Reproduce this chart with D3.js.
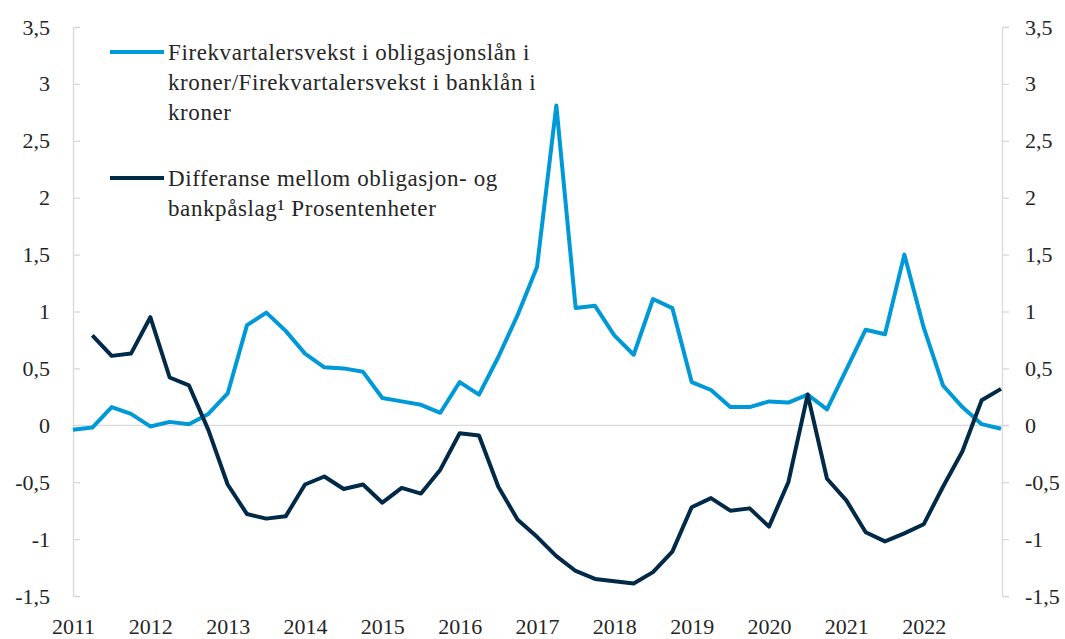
<!DOCTYPE html>
<html>
<head>
<meta charset="utf-8">
<script src="https://cdn.jsdelivr.net/npm/d3@7"></script>
<style>
  body { margin: 0; background: #fff; }
</style>
</head>
<body>
<div id="chart"></div>
<script>
const years = ['2011', '2012', '2013', '2014', '2015', '2016', '2017', '2018', '2019', '2020', '2021', '2022', '2023'];
const quarters = [];
years.forEach(y => {
   ['K1', 'K2', 'K3', 'K4'].forEach(q => {
      if (quarters.length < 49) quarters.push(y + q);
   });
});

// Firekvartalersvekst i obligasjonslån / banklån (venstre akse)
const growthRatio = [
   -0.04, -0.02, 0.16, 0.10, -0.01, 0.03, 0.01, 0.10,
   0.28, 0.88, 0.99, 0.83, 0.63, 0.51, 0.50, 0.47,
   0.24, 0.21, 0.18, 0.11, 0.38, 0.27, 0.60, 0.97,
   1.39, 2.81, 1.03, 1.05, 0.79, 0.62, 1.11, 1.03,
   0.38, 0.31, 0.16, 0.16, 0.21, 0.20, 0.27, 0.14,
   0.49, 0.84, 0.80, 1.50, 0.86, 0.35, 0.16, 0.01,
   -0.03
];

// Differanse mellom obligasjon- og bankpåslag (høyre akse)
const spreadDiff = [
   null, 0.79, 0.61, 0.63, 0.95, 0.42, 0.35, -0.04,
   -0.52, -0.78, -0.82, -0.80, -0.52, -0.45, -0.56, -0.52,
   -0.68, -0.55, -0.60, -0.39, -0.07, -0.09, -0.54, -0.83,
   -0.98, -1.15, -1.28, -1.35, -1.37, -1.39, -1.29, -1.11,
   -0.72, -0.64, -0.75, -0.73, -0.89, -0.50, 0.27, -0.47,
   -0.66, -0.94, -1.02, -0.95, -0.87, -0.54, -0.23, 0.22,
   0.32
];

const yTicks = [-1.5, -1, -0.5, 0, 0.5, 1, 1.5, 2, 2.5, 3, 3.5];
const legendLabels = [
   ['Firekvartalersvekst i obligasjonslån i', 'kroner/Firekvartalersvekst i banklån i', 'kroner'],
   ['Differanse mellom obligasjon- og', 'bankpåslag¹ Prosentenheter']
];
const colors = ['#0099d8', '#002a48'];

const font = '"Liberation Serif", "Times New Roman", Tinos, Times, "Noto Serif", "DejaVu Serif", Georgia, serif';
const w = 1065;
const h = 639;
const mLeft = 73;
const mRight = 1002;
const mTop = 27;
const mBottom = 596;

const svg = d3.select('#chart')
   .append('svg')
   .attr('width', w)
   .attr('height', h)
   .style('font-family', font);

const x = d3.scalePoint()
   .domain(quarters)
   .range([mLeft, mRight - 1]);

const yL = d3.scaleLinear().domain([-1.5, 3.5]).range([mBottom, mTop]);
const yR = d3.scaleLinear().domain([-1.5, 3.5]).range([mBottom, mTop]);

const fmt = d => String(d).replace('.', ',');

// null-linje
svg.append('line')
   .attr('x1', mLeft)
   .attr('x2', mRight + 7)
   .attr('y1', yL(0))
   .attr('y2', yL(0))
   .attr('stroke', '#d9d9d9')
   .attr('stroke-width', 1.3);

const axisL = svg.append('g')
   .attr('transform', 'translate(' + mLeft + ',0)')
   .call(d3.axisLeft(yL).tickValues(yTicks).tickFormat(fmt).tickSize(-7).tickPadding(23));

const axisR = svg.append('g')
   .attr('transform', 'translate(' + mRight + ',0)')
   .call(d3.axisRight(yR).tickValues(yTicks).tickFormat(fmt).tickSize(7).tickPadding(16));

const axisX = svg.append('g')
   .attr('transform', 'translate(0,' + mBottom + ')')
   .call(d3.axisBottom(x)
      .tickValues(quarters.filter((q, i) => i % 4 === 0 && i < 48))
      .tickFormat(q => q.slice(0, 4))
      .tickSize(0)
      .tickPadding(22));
axisX.select('.domain').remove();

[axisL, axisR, axisX].forEach(g => {
   g.attr('font-family', null).attr('font-size', null);
   g.selectAll('path, line').attr('stroke', '#d9d9d9').attr('stroke-width', 1.3);
   g.selectAll('text')
      .style('font-family', font)
      .style('font-size', '22px')
      .attr('fill', '#262626');
});

const lineL = d3.line()
   .defined(d => d[1] !== null)
   .x(d => x(d[0]))
   .y(d => yL(d[1]));

const lineR = d3.line()
   .defined(d => d[1] !== null)
   .x(d => x(d[0]))
   .y(d => yR(d[1]));

svg.append('path')
   .datum(quarters.map((q, i) => [q, growthRatio[i]]))
   .attr('fill', 'none')
   .attr('stroke', colors[0])
   .attr('stroke-width', 4)
   .attr('stroke-linejoin', 'round')
   .attr('d', lineL);

svg.append('path')
   .datum(quarters.map((q, i) => [q, spreadDiff[i]]))
   .attr('fill', 'none')
   .attr('stroke', colors[1])
   .attr('stroke-width', 4)
   .attr('stroke-linejoin', 'round')
   .attr('d', lineR);

// tegnforklaring
const legendY = [52, 178];
legendLabels.forEach((lines, k) => {
   const g = svg.append('g');
   g.append('line')
      .attr('x1', 110)
      .attr('x2', 164)
      .attr('y1', legendY[k])
      .attr('y2', legendY[k])
      .attr('stroke', colors[k])
      .attr('stroke-width', 4);
   lines.forEach((t, j) => {
      g.append('text')
         .attr('x', 168)
         .attr('y', legendY[k] + 8 + j * 30)
         .style('font-family', font)
         .style('font-size', '23px')
         .style('letter-spacing', '0.6px')
         .attr('fill', '#262626')
         .text(t);
   });
});
</script>
</body>
</html>
